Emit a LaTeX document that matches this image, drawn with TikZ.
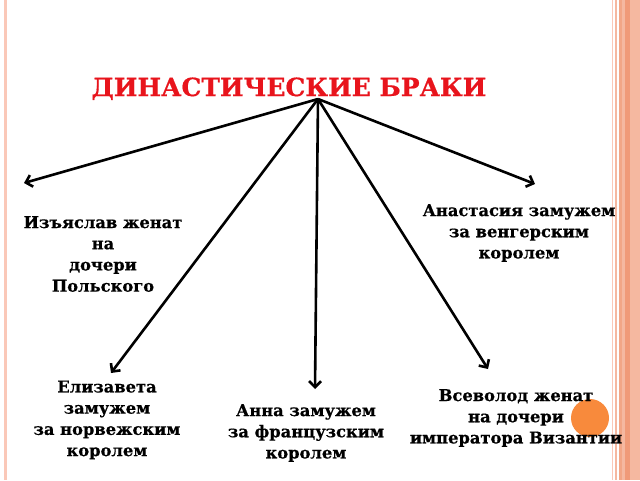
\documentclass[tikz,border=0pt]{standalone}
\usepackage{fontspec}
\setmainfont[BoldFeatures={FakeBold=0.6}]{DejaVu Serif}
\usetikzlibrary{arrows.meta}
\definecolor{titlered}{HTML}{E8141C}
\definecolor{bordA}{HTML}{FAC8B8}
\definecolor{bordB}{HTML}{F5B8A0}
\definecolor{bordC}{HTML}{F2A686}
\definecolor{bordD}{HTML}{F09A78}
\definecolor{dotorange}{HTML}{F88A3C}
\tikzset{
  lbl/.style={align=center, inner sep=0pt, font=\bfseries\fontsize{16.3}{21.2}\selectfont},
  conn/.style={line width=2.6pt, -{Straight Barb[length=6pt,width=12pt]}},
}
\begin{document}
\begin{tikzpicture}[x=1pt,y=-1pt]
\useasboundingbox (0,0) rectangle (640,480);
\fill[white] (0,0) rectangle (640,480);
% borders
\fill[bordA] (4,0) rectangle (7,480);
\fill[bordA] (612,0) rectangle (613,480);
\fill[bordB] (615,0) rectangle (616.5,480);
\fill[bordC] (619,0) rectangle (622,480);
\fill[bordB] (622,0) rectangle (625,480);
\fill[bordD] (625,0) rectangle (630,480);
\fill[bordB] (630,0) rectangle (640,480);
\fill[dotorange] (590,418) circle (19);
% title
\node[anchor=base, inner sep=0pt, text=titlered, font=\bfseries\fontsize{25}{30}\selectfont] (title) at (289,96) {ДИНАСТИЧЕСКИЕ БРАКИ};
\coordinate (hub) at (318,99);
% labels
\node[lbl] (izy) at (103,254) {Изъяслав женат\\на\\дочери\\Польского};
\node[lbl] (anast) at (519,233) {Анастасия замужем\\за венгерским\\королем};
\node[lbl] (eliz) at (107,420) {Елизавета\\замужем\\за норвежским\\королем};
\node[lbl] (anna) at (306,433) {Анна замужем\\за французским\\королем};
\node[lbl] (vsev) at (516,418) {Всеволод женат\\на дочери\\императора Византии};
% arrow tips
\coordinate (tizy) at (24,183);
\coordinate (tanast) at (535,184);
\coordinate (teliz) at (111,373);
\coordinate (tanna) at (315,389);
\coordinate (tvsev) at (488,369);
\draw[conn] (hub) -- (tizy);
\draw[conn] (hub) -- (tanast);
\draw[conn] (hub) -- (teliz);
\draw[conn] (hub) -- (tanna);
\draw[conn] (hub) -- (tvsev);
\end{tikzpicture}
\end{document}
